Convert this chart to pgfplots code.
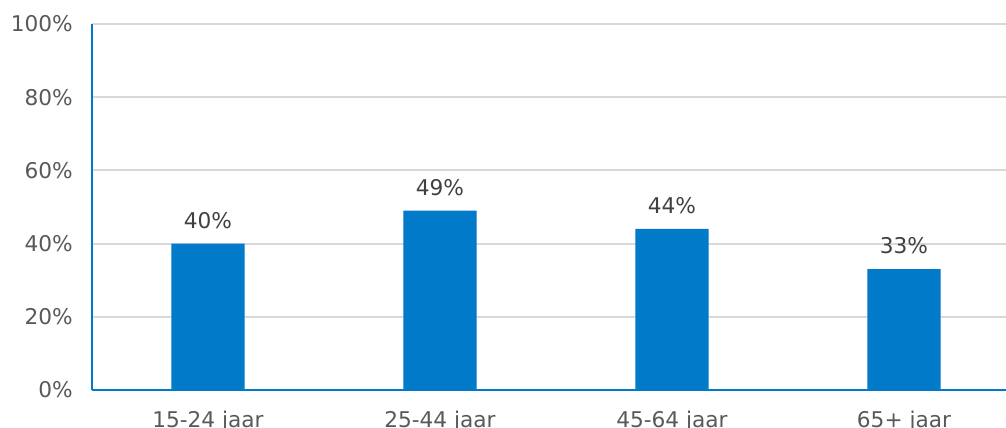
\documentclass[border=0pt]{standalone}
\usepackage{pgfplots}
\pgfplotsset{compat=1.18}
\usepackage{fontspec}
\setmainfont{DejaVu Sans}
\definecolor{barblue}{RGB}{0,122,201}
\definecolor{axblue}{RGB}{0,122,201}
\definecolor{gridgray}{RGB}{217,217,217}
\definecolor{ticktext}{RGB}{89,89,89}
\definecolor{lbltext}{RGB}{64,64,64}
\begin{document}
\begin{tikzpicture}[x=0.6pt,y=0.6pt]
\begin{axis}[
  at={(0,0)}, anchor=south west,
  scale only axis,
  width=548.4pt, height=219.6pt,
  xmin=-0.5, xmax=3.4397,
  ymin=0, ymax=100,
  ytick={0,20,40,60,80,100},
  yticklabel={\pgfmathprintnumber{\tick}\%},
  /pgf/number format/assume math mode=true,
  xtick={0,1,2,3},
  xticklabels={15-24 jaar,25-44 jaar,45-64 jaar,65+ jaar},
  tick style={draw=none},
  ymajorgrids,
  grid style={gridgray, line width=1.2pt},
  axis x line*=bottom,
  axis y line*=left,
  axis line style={axblue, line width=1.2pt, -},
  ticklabel style={font=\fontsize{13pt}{15pt}\selectfont, text=ticktext},
  yticklabel style={xshift=-8pt},
  xticklabel style={yshift=-5pt},
  ybar,
  bar width=0.315,
  nodes near coords={\pgfmathprintnumber{\pgfplotspointmeta}\%},
  nodes near coords style={font=\fontsize{13pt}{15pt}\selectfont, text=lbltext, yshift=5.5pt},
  clip=false,
]
\addplot[fill=barblue, draw=none] coordinates {(0,40) (1,49) (2,44) (3,33)};
\end{axis}
\pgfresetboundingbox
\path[use as bounding box] (-92,-37) rectangle (914,390);
\end{tikzpicture}
\end{document}
